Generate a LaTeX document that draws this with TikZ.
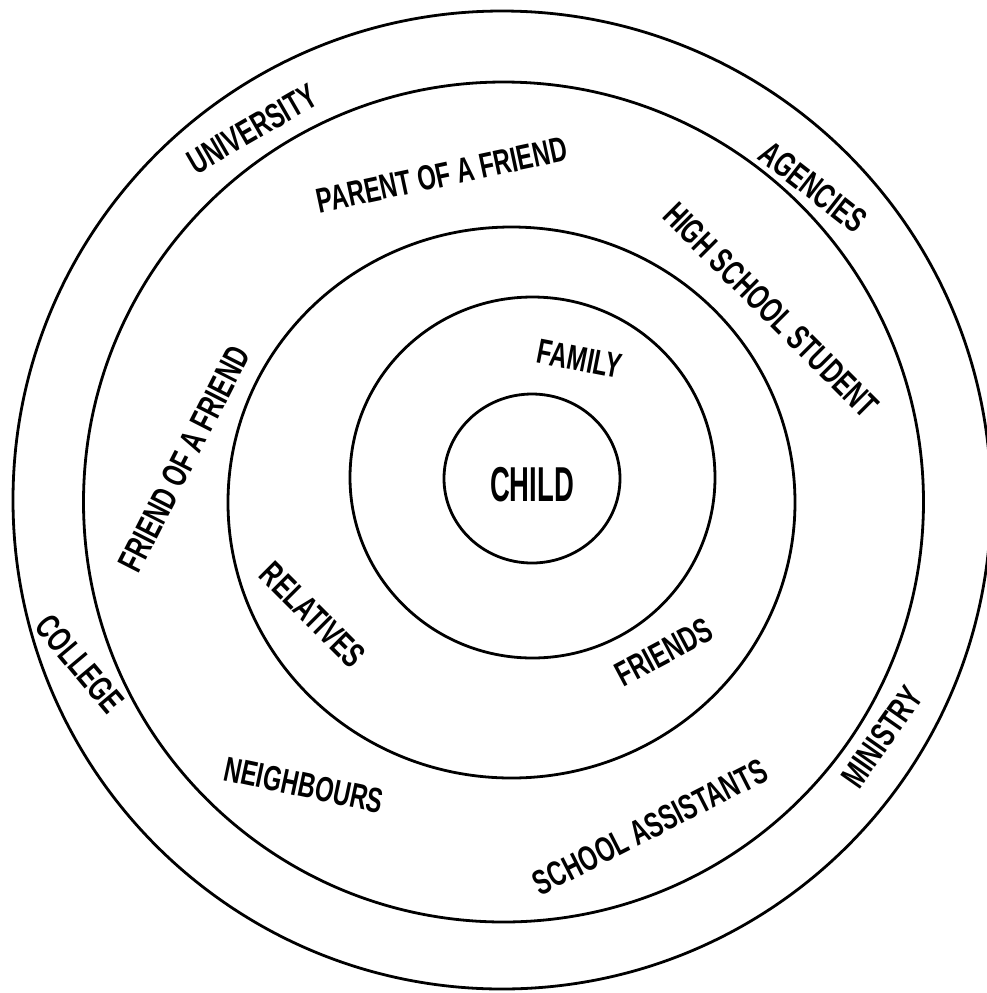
\documentclass[tikz,border=0pt]{standalone}
\usepackage{fontspec}
\setmainfont{Liberation Sans}[FakeStretch=0.68]
\newfontfamily\childfont{Liberation Sans}[FakeStretch=0.56]
\usepackage{tikz}
\usetikzlibrary{positioning}

\begin{document}
\begin{tikzpicture}[x=0.5pt, y=-0.5pt,
  ring/.style={draw, line width=1.4pt},
  lbl/.style={inner sep=0pt, font=\fontsize{17.5}{19}\selectfont\bfseries}
]
  \useasboundingbox (0,0) rectangle (987,993);

  % rings, outside in
  \draw[ring] (502,500) circle [radius=489];
  \draw[ring] (503.5,502) circle [radius=420];
  \draw[ring] (511.5,502.5) ellipse [x radius=283.5, y radius=275.5];
  \draw[ring] (532.5,477.5) ellipse [x radius=182.5, y radius=180.5];
  \draw[ring] (532,478.5) ellipse [x radius=88, y radius=84.5];

  \node[inner sep=0pt, font=\childfont\fontsize{24.5}{26}\selectfont\bfseries] (child) at (532,485) {CHILD};

  \node[lbl, rotate=-11] (family) at (580,359) {FAMILY};
  \node[lbl, rotate=28] (friends) at (664,652) {FRIENDS};
  \node[lbl, rotate=-45] (relatives) at (313,615) {RELATIVES};
  \node[lbl, rotate=63] (foaf) at (184,459) {FRIEND OF A FRIEND};
  \node[lbl, rotate=-45] (hss) at (771,310) {HIGH SCHOOL STUDENT};
  \node[lbl, rotate=12] (parent) at (442,175) {PARENT OF A FRIEND};
  \node[lbl, rotate=-12] (neighbours) at (304,785) {NEIGHBOURS};
  \node[lbl, rotate=27] (schoolasst) at (650,827) {SCHOOL ASSISTANTS};

  \node[lbl, rotate=30] (univ) at (252,129) {UNIVERSITY};
  \node[lbl, rotate=-38] (agencies) at (813,187) {AGENCIES};
  \node[lbl, rotate=-50] (college) at (80,664) {COLLEGE};
  \node[lbl, rotate=55] (ministry) at (882,737) {MINISTRY};
\end{tikzpicture}
\end{document}
